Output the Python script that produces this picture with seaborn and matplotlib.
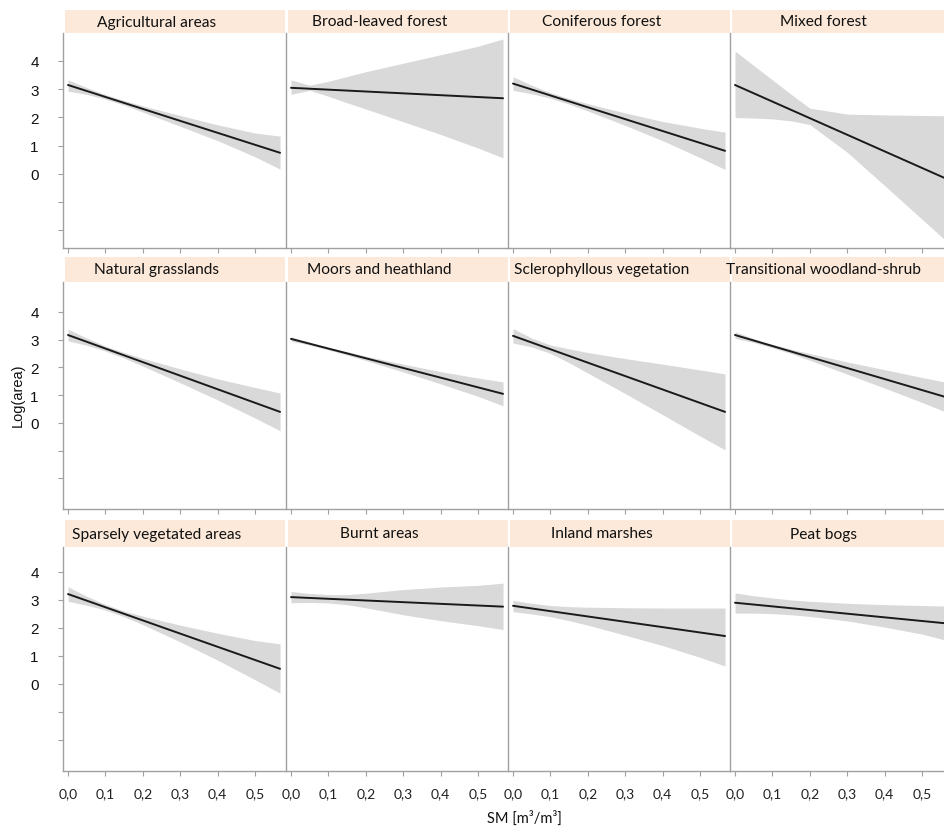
import numpy as np
import pandas as pd
import matplotlib
matplotlib.use("Agg")
import matplotlib.pyplot as plt
import matplotlib.transforms as mtransforms
from matplotlib.patches import Rectangle
import seaborn as sns

# ---------------- data ----------------
PANELS = ["Agricultural areas", "Broad-leaved forest", "Coniferous forest", "Mixed forest",
          "Natural grasslands", "Moors and heathland", "Sclerophyllous vegetation", "Transitional woodland-shrub",
          "Sparsely vegetated areas", "Burnt areas", "Inland marshes", "Peat bogs"]

SM_GRID = [0.0, 0.05, 0.1, 0.15, 0.2, 0.3, 0.4, 0.5, 0.567]
FIT_X = [0.0, 0.567]
FIT_START = [3.15, 3.05, 3.20, 3.15, 3.17, 3.03, 3.14, 3.17, 3.21, 3.10, 2.79, 2.90]
FIT_END = [0.75, 2.68, 0.82, -0.18, 0.40, 1.05, 0.40, 0.92, 0.54, 2.76, 1.71, 2.16]

AGRI_HI = [3.33, 3.06, 2.81, 2.60, 2.41, 2.07, 1.74, 1.45, 1.34]
AGRI_LO = [2.93, 2.82, 2.65, 2.44, 2.19, 1.69, 1.18, 0.61, 0.17]
BROAD_HI = [3.33, 3.14, 3.28, 3.45, 3.62, 3.92, 4.22, 4.52, 4.78]
BROAD_LO = [2.82, 2.96, 2.75, 2.52, 2.30, 1.85, 1.40, 0.92, 0.57]
CONIF_HI = [3.44, 3.14, 2.88, 2.67, 2.49, 2.16, 1.86, 1.62, 1.48]
CONIF_LO = [2.96, 2.84, 2.68, 2.47, 2.23, 1.72, 1.18, 0.58, 0.16]
MIXED_HI = [4.35, 3.84, 3.33, 2.82, 2.33, 2.12, 2.09, 2.07, 2.06]
MIXED_LO = [2.00, 1.98, 1.95, 1.88, 1.75, 0.77, -0.41, -1.60, -2.40]
GRASS_HI = [3.38, 3.06, 2.77, 2.54, 2.33, 1.95, 1.59, 1.28, 1.08]
GRASS_LO = [2.96, 2.80, 2.59, 2.34, 2.05, 1.45, 0.83, 0.18, -0.28]
MOORS_HI = [3.11, 2.91, 2.73, 2.57, 2.41, 2.12, 1.85, 1.62, 1.48]
MOORS_LO = [2.95, 2.81, 2.63, 2.45, 2.25, 1.84, 1.41, 0.96, 0.62]
SCLER_HI = [3.40, 3.06, 2.81, 2.67, 2.54, 2.32, 2.12, 1.91, 1.77]
SCLER_LO = [2.88, 2.74, 2.51, 2.17, 1.80, 1.06, 0.30, -0.47, -0.97]
TRANS_HI = [3.29, 3.04, 2.83, 2.66, 2.50, 2.20, 1.92, 1.64, 1.46]
TRANS_LO = [3.05, 2.90, 2.71, 2.50, 2.26, 1.76, 1.26, 0.74, 0.38]
SPARSE_HI = [3.47, 3.13, 2.84, 2.60, 2.42, 2.10, 1.81, 1.55, 1.43]
SPARSE_LO = [2.95, 2.81, 2.64, 2.40, 2.12, 1.50, 0.85, 0.15, -0.33]
BURNT_HI = [3.30, 3.23, 3.19, 3.19, 3.24, 3.37, 3.46, 3.52, 3.60]
BURNT_LO = [2.90, 2.91, 2.89, 2.83, 2.72, 2.47, 2.26, 2.08, 1.94]
MARSH_HI = [2.98, 2.88, 2.80, 2.76, 2.74, 2.72, 2.71, 2.71, 2.71]
MARSH_LO = [2.58, 2.50, 2.40, 2.26, 2.10, 1.74, 1.37, 0.95, 0.64]
PEAT_HI = [3.25, 3.15, 3.07, 3.00, 2.95, 2.88, 2.83, 2.80, 2.78]
PEAT_LO = [2.53, 2.53, 2.51, 2.47, 2.41, 2.25, 2.03, 1.78, 1.55]

BAND_HI = [AGRI_HI, BROAD_HI, CONIF_HI, MIXED_HI, GRASS_HI, MOORS_HI, SCLER_HI, TRANS_HI,
           SPARSE_HI, BURNT_HI, MARSH_HI, PEAT_HI]
BAND_LO = [AGRI_LO, BROAD_LO, CONIF_LO, MIXED_LO, GRASS_LO, MOORS_LO, SCLER_LO, TRANS_LO,
           SPARSE_LO, BURNT_LO, MARSH_LO, PEAT_LO]

X_TICKS = [0.0, 0.1, 0.2, 0.3, 0.4, 0.5]
X_TICK_LABELS = ["0,0", "0,1", "0,2", "0,3", "0,4", "0,5"]
Y_TICKS = [-2, -1, 0, 1, 2, 3, 4]
Y_TICK_LABELS = ["", "", "0", "1", "2", "3", "4"]

# ---------------- style ----------------
sns.set_theme(style="white")
plt.rcParams["font.family"] = ["Lato", "DejaVu Sans"]

W, H = 945, 828
fig = plt.figure(figsize=(W / 100, H / 100), dpi=100)

STRIP_COLOR = "#FCE9D9"
SPINE_COLOR = "#A0A0A0"
BAND_COLOR = "#D9D9D9"
LINE_COLOR = "#1A1A1A"

col_left = [63, 286, 508, 730]
col_w = 222.5
row_top = [34, 283, 548]
row_bot = [249, 510, 772]
strip_top = [11, 258, 521]
row_ylim = [(-2.62, 4.99), (-3.10, 5.08), (-3.11, 4.89)]
XLIM = (-0.0134, 0.5816)

for i, name in enumerate(PANELS):
    r, c = divmod(i, 4)
    left = col_left[c] / W
    bottom = 1 - row_bot[r] / H
    height = (row_bot[r] - row_top[r]) / H
    ax = fig.add_axes([left, bottom, col_w / W, height])

    band = pd.DataFrame({"SM": SM_GRID, "lo": BAND_LO[i], "hi": BAND_HI[i]})
    ax.fill_between(band["SM"], band["lo"], band["hi"], color=BAND_COLOR, lw=0, zorder=1)
    fit = pd.DataFrame({"SM": FIT_X, "LogArea": [FIT_START[i], FIT_END[i]]})
    sns.lineplot(data=fit, x="SM", y="LogArea", ax=ax, color=LINE_COLOR, lw=1.4, zorder=2)

    ax.set_xlim(*XLIM)
    ax.set_ylim(*row_ylim[r])
    ax.set_xlabel("")
    ax.set_ylabel("")
    for s in ["top", "right"]:
        ax.spines[s].set_visible(False)
    for s in ["left", "bottom"]:
        ax.spines[s].set_color(SPINE_COLOR)
        ax.spines[s].set_linewidth(1.0)

    ax.set_xticks(X_TICKS)
    ax.tick_params(axis="x", direction="out", length=3.5, width=0.8, color=SPINE_COLOR,
                   bottom=True, pad=8)
    if r == 2:
        ax.set_xticklabels(X_TICK_LABELS, fontsize=10, color="#222222")
    else:
        ax.set_xticklabels([])

    if c == 0:
        ax.set_yticks(Y_TICKS)
        ax.set_yticklabels(Y_TICK_LABELS, fontsize=11, family=["Liberation Sans", "DejaVu Sans"],
                           color="#111111")
        ax.tick_params(axis="y", direction="out", length=3.5, width=0.8, color=SPINE_COLOR,
                       left=True, pad=14)
    else:
        ax.set_yticks([])

    # strip
    sh = (row_top[r] - strip_top[r]) / (row_bot[r] - row_top[r])
    ax.add_patch(Rectangle((2 / col_w, 1.0), 1 - 2 / col_w, sh, transform=ax.transAxes,
                           facecolor=STRIP_COLOR, edgecolor="none", clip_on=False, zorder=0))
    trans = mtransforms.blended_transform_factory(ax.transData, ax.transAxes)
    ax.text(0.237, 1 + sh / 2, name, transform=trans, ha="center", va="center",
            fontsize=11.2, color="#111111", clip_on=False)

fig.text(18 / W, 1 - 395 / H, "Log(area)", rotation=90, ha="center", va="center",
         fontsize=10.5, family=["Liberation Sans", "DejaVu Sans"], color="#111111")
fig.text(524 / W, 1 - 818 / H, "SM [m³/m³]", ha="center", va="center", fontsize=10.5,
         color="#111111")

fig.savefig("out.png", dpi=100)
